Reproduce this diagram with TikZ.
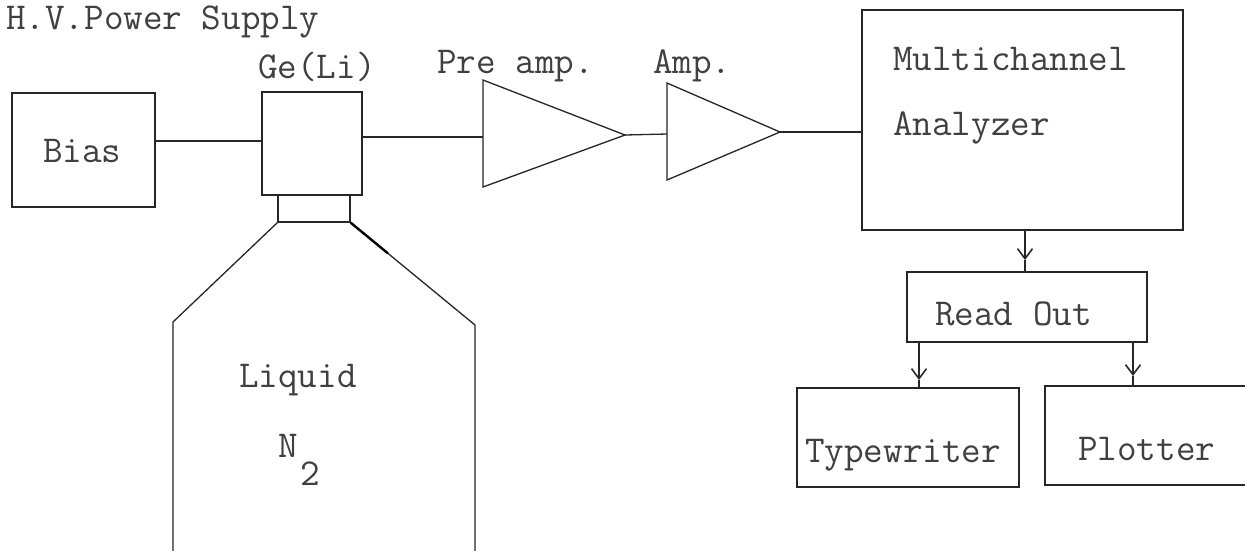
\documentclass[tikz,border=0pt]{standalone}
\usepackage{fontspec}
\usetikzlibrary{arrows.meta,calc}
\tikzset{
  ln/.style={line width=1.3pt, draw=black!85},
  box/.style={ln, draw, rectangle, inner sep=0pt},
  lbl/.style={anchor=base west, inner sep=0pt, text=black!75, font=\ttfamily\fontsize{38}{38}\selectfont},
  arr/.style={ln, -{Straight Barb[length=10pt,width=15pt,line width=1.6pt]}}
}
\begin{document}
\begin{tikzpicture}[x=1pt,y=-1pt]
\useasboundingbox (0,0) rectangle (1245,550);
\clip (0,0) rectangle (1245,550);
\fill[white] (0,0) rectangle (1245,550);

% title
\node[lbl] (title) at (6,29) {H.V.Power Supply};

% boxes
\node[box, minimum width=143pt, minimum height=114pt] (bias) at (83.5,150) {};
\node[lbl] (biast) at (43,162) {Bias};
\node[box, minimum width=100pt, minimum height=103pt] (ge) at (312,143.5) {};
\node[lbl] (get) at (258,78) {Ge(Li)};
\node[box, minimum width=72pt, minimum height=27pt] (neck) at (314,208.5) {};

% dewar
\coordinate (bl) at (173,322);
\coordinate (br) at (475,325);
\draw[ln] (neck.south west) -- (bl) -- (173,560);
\draw[ln] (neck.south east) -- (br) -- (475,560);
\draw[line width=2.4pt] (neck.south east) -- ($(neck.south east)!0.3!(br)$);
\node[lbl] (liq) at (239,387) {Liquid};
\node[lbl] (n) at (278,457) {N};
\node[lbl] (two) at (300,485) {2};

% preamp
\coordinate (pa1) at (483,80);
\coordinate (pa2) at (483,187);
\coordinate (paout) at (625,135);
\draw[ln] (pa1) -- (paout) -- (pa2) -- cycle;
\coordinate (pain) at (483,138);
\node[lbl] (pat) at (437,73) {Pre amp.};

% amp
\coordinate (a1) at (667,83);
\coordinate (a2) at (667,180);
\coordinate (aout) at (780,132);
\draw[ln] (a1) -- (aout) -- (a2) -- cycle;
\coordinate (ain) at (667,134);
\node[lbl] (at) at (653,73) {Amp.};

% MCA
\node[box, minimum width=321pt, minimum height=220pt] (mca) at (1022.5,120) {};
\node[lbl] (mcat1) at (893,70) {Multichannel};
\node[lbl] (mcat2) at (893,135) {Analyzer};

% readout
\node[box, minimum width=240pt, minimum height=70pt] (ro) at (1027,307) {};
\node[lbl] (rot) at (935,325) {Read Out};

% outputs
\node[box, minimum width=222pt, minimum height=99pt] (tw) at (908,437.5) {};
\node[lbl] (twt) at (805,462) {Typewriter};
\node[box, minimum width=250pt, minimum height=99pt] (pl) at (1170,435.5) {};
\node[lbl] (plt) at (1078,460) {Plotter};

% connectors
\draw[ln] (bias.east |- 0,141) -- (ge.west |- 0,141);
\draw[ln] (ge.east |- 0,137) -- (pain |- 0,137);
\draw[ln] (paout) -- (ain);
\draw[ln] (aout) -- (aout -| mca.west);

\coordinate (m1) at (1025,260);
\draw[arr] (mca.south -| m1) -- (m1);
\draw[ln] (m1) -- (ro.north -| m1);

\coordinate (m2) at (919,380);
\draw[arr] (ro.south -| m2) -- (m2);
\draw[ln] (m2) -- (tw.north -| m2);

\coordinate (m3) at (1133,376);
\draw[arr] (ro.south -| m3) -- (m3);
\draw[ln] (m3) -- (pl.north -| m3);
\end{tikzpicture}
\end{document}
